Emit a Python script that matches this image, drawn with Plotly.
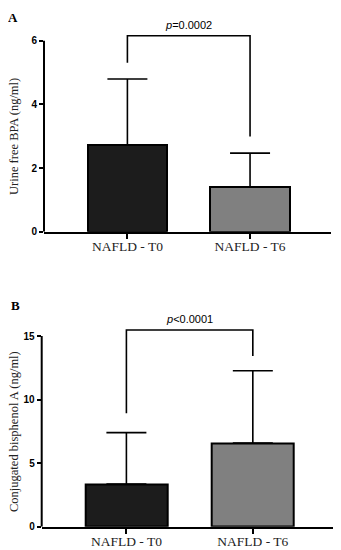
import plotly.graph_objects as go

categories = ["NAFLD - T0", "NAFLD - T6"]
bar_colors = ["#1c1c1c", "#808080"]

# Panel A: urine free BPA
a_means = [2.72, 1.40]
a_sd = [2.08, 1.07]
a_bracket = [5.31, 6.16, 2.99]  # left foot, top, right foot
a_p = "<i>p</i>=0.0002"
a_ticks = [0, 2, 4, 6]
a_title = "Urine free BPA (ng/ml)"

# Panel B: conjugated BPA
b_means = [3.36, 6.58]
b_sd = [4.04, 5.69]
b_bracket = [8.92, 15.48, 13.43]
b_p = "<i>p</i><0.0001"
b_ticks = [0, 5, 10, 15]
b_title = "Conjugated bisphenol A (ng/ml)"

# page has an 8px body margin; figure placed at (8, 8) and reaching the window edges
OFF = 8.0
W = 333.0
H = 542.0

def px(x):
    return (x - OFF) / W

def py(y):
    return 1 - (y - OFF) / H

fig = go.Figure()
xpos = [0, 1]

for means, sd, xa, ya in [(a_means, a_sd, "x", "y"), (b_means, b_sd, "x2", "y2")]:
    fig.add_trace(go.Bar(
        x=xpos, y=means, width=0.65,
        marker=dict(color=bar_colors, line=dict(color="black", width=2)),
        error_y=dict(type="data", symmetric=False, array=sd, arrayminus=[0, 0],
                     color="black", thickness=1.6, width=20),
        xaxis=xa, yaxis=ya, showlegend=False,
    ))

serif = "Liberation Serif"
sans = "Liberation Sans"

def yaxis_cfg(domain, rng, ticks, anchor):
    return dict(domain=domain, range=rng, tickvals=ticks, ticktext=[str(t) for t in ticks],
                showline=False, ticks="outside", ticklen=4, tickwidth=2, tickcolor="black",
                showgrid=False, zeroline=False, anchor=anchor, automargin=False,
                tickfont=dict(family=sans, size=10, color="black", weight="bold"),
                fixedrange=True)

def xaxis_cfg(domain, rng, anchor):
    return dict(domain=domain, range=rng, tickvals=xpos, ticktext=categories,
                showline=True, linecolor="black", linewidth=2, ticks="outside",
                ticklen=5, tickwidth=2, tickcolor="black", showgrid=False, zeroline=False,
                automargin=False, ticklabelstandoff=-4,
                tickfont=dict(family=serif, size=13.5, color="#222"), anchor=anchor)

fig.update_layout(
    template="none",
    width=W, height=H, margin=dict(l=0, r=0, t=0, b=0, pad=0),
    paper_bgcolor="white", plot_bgcolor="white", bargap=0,
    xaxis=xaxis_cfg([px(44), px(331)], [-0.68, 1.66], "y"),
    yaxis=yaxis_cfg([py(231.7), py(32.9)], [0, 6.25], a_ticks, "x"),
    xaxis2=xaxis_cfg([px(41.7), px(335)], [-0.67, 1.65], "y2"),
    yaxis2=yaxis_cfg([py(526.7), py(328.4)], [0, 15.6], b_ticks, "x2"),
)

# y axis lines stopping at top tick
for xa, ya, top in [("x", "y", a_ticks[-1]), ("x2", "y2", b_ticks[-1])]:
    fig.add_shape(type="line", xref=f"{xa} domain", yref=ya, x0=0, x1=0, y0=0, y1=top,
                  line=dict(color="black", width=2))

# significance brackets
for xa, ya, br in [("x", "y", a_bracket), ("x2", "y2", b_bracket)]:
    fig.add_shape(type="path", xref=xa, yref=ya,
                  path=f"M {xpos[0]},{br[0]} L {xpos[0]},{br[1]} L {xpos[1]},{br[1]} L {xpos[1]},{br[2]}",
                  line=dict(color="black", width=1.6))

fig.add_annotation(text=a_p, xref="x", yref="y", x=0.5, y=a_bracket[1], yanchor="bottom", yshift=3,
                   showarrow=False, font=dict(family=sans, size=11, color="black"))
fig.add_annotation(text=b_p, xref="x2", yref="y2", x=0.5, y=b_bracket[1], yanchor="bottom", yshift=3,
                   showarrow=False, font=dict(family=sans, size=11, color="black"))

# y axis titles
fig.add_annotation(text=a_title, xref="paper", yref="paper", x=px(14), y=py(137), textangle=-90,
                   xanchor="center", yanchor="middle", showarrow=False,
                   font=dict(family=serif, size=12.5, color="#222"))
fig.add_annotation(text=b_title, xref="paper", yref="paper", x=px(14), y=py(432), textangle=-90,
                   xanchor="center", yanchor="middle", showarrow=False,
                   font=dict(family=serif, size=12.5, color="#222"))

fig.add_annotation(text="<b>A</b>", xref="paper", yref="paper", x=px(13), y=1.0, xanchor="center",
                   yanchor="top", showarrow=False, font=dict(family=serif, size=13, color="black"))
fig.add_annotation(text="<b>B</b>", xref="paper", yref="paper", x=px(15), y=py(305), xanchor="center",
                   yanchor="middle", showarrow=False, font=dict(family=serif, size=13, color="black"))

fig.write_html("out.html")
